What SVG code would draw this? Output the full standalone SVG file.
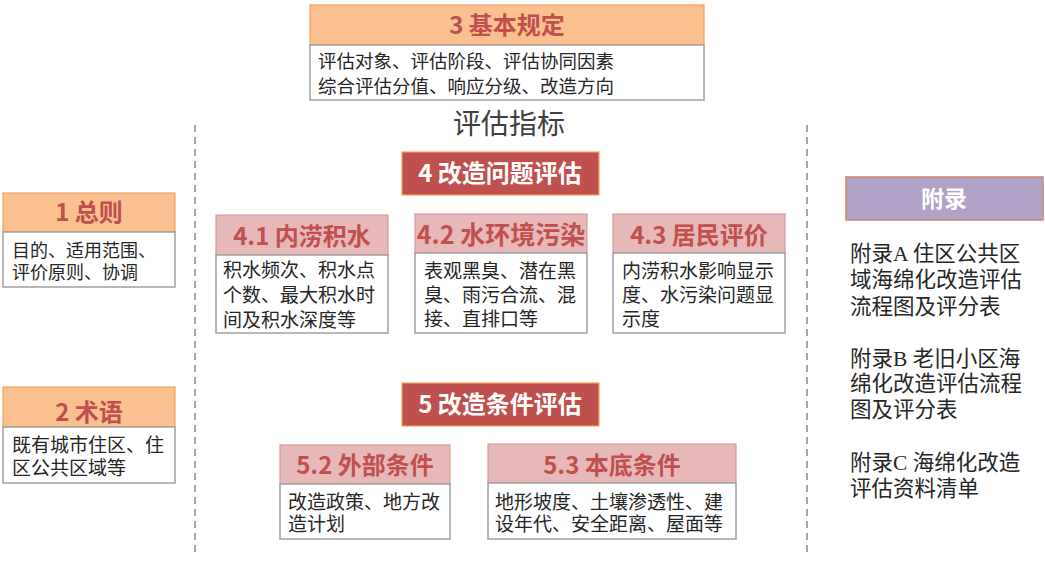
<svg xmlns="http://www.w3.org/2000/svg" width="1045" height="565" viewBox="0 0 1045 565">
<style>
text{font-family:"Noto Sans CJK SC","Noto Sans",sans-serif;}
.ho{fill:#fac090;stroke:#f0a060;stroke-width:1.2;}
.hp{fill:#e6b9b8;stroke:#d59a98;stroke-width:1.2;}
.hr{fill:#c0504d;stroke:#f3a25c;stroke-width:1.2;}
.hv{fill:#b3a2c7;stroke:#c9886a;stroke-width:1.5;}
.bd{fill:#ffffff;stroke:#a0a0a0;stroke-width:1.5;}
.ht{font-size:24px;font-weight:bold;fill:#c0504d;text-anchor:middle;}
.hw{font-size:24px;font-weight:bold;fill:#ffffff;text-anchor:middle;}
.bt{font-size:19px;fill:#262626;}
.at{font-size:21.5px;fill:#262626;}
.ser{font-family:"Liberation Serif",serif;}
.dash{stroke:#a6a6a6;stroke-width:2;stroke-dasharray:7 5;fill:none;}
</style>
<rect width="1045" height="565" fill="#ffffff"/>
<g id="connectors">
<line class="dash" x1="195" y1="125" x2="195" y2="557"/>
<line class="dash" x1="807" y1="125" x2="807" y2="557"/>
</g>
<g id="n3">
<rect class="ho" x="310" y="5" width="394" height="40"/>
<rect class="bd" x="310" y="45" width="394" height="55"/>
<text class="ht" x="507" y="34">3 基本规定</text>
<text class="bt" x="318" y="68" style="font-size:18.5px"><tspan x="318" y="68">评估对象、评估阶段、评估协同因素</tspan><tspan x="318" y="93">综合评估分值、响应分级、改造方向</tspan></text>
</g>
<g id="title">
<text x="509" y="134" style="font-size:28px;fill:#404040;text-anchor:middle">评估指标</text>
</g>
<g id="n4">
<rect class="hr" x="402" y="152" width="197" height="43"/>
<text class="hw" x="500" y="182">4 改造问题评估</text>
</g>
<g id="n1">
<rect class="ho" x="3" y="193" width="172" height="39"/>
<rect class="bd" x="3" y="232" width="172" height="55"/>
<text class="ht" x="89" y="221">1 总则</text>
<text class="bt" style="font-size:18px"><tspan x="12" y="257">目的、适用范围、</tspan><tspan x="12" y="279">评价原则、协调</tspan></text>
</g>
<g id="n41">
<rect class="hp" x="216" y="215" width="172" height="40"/>
<rect class="bd" x="216" y="255" width="172" height="78"/>
<text class="ht" x="302" y="245">4.1 内涝积水</text>
<text class="bt"><tspan x="223" y="277">积水频次、积水点</tspan><tspan x="223" y="302">个数、最大积水时</tspan><tspan x="223" y="327">间及积水深度等</tspan></text>
</g>
<g id="n42">
<rect class="hp" x="415" y="214" width="172" height="39"/>
<rect class="bd" x="415" y="253" width="172" height="80"/>
<text class="ht" x="501" y="244" style="font-size:25px">4.2 水环境污染</text>
<text class="bt"><tspan x="424" y="278">表观黑臭、潜在黑</tspan><tspan x="424" y="302">臭、雨污合流、混</tspan><tspan x="424" y="326">接、直排口等</tspan></text>
</g>
<g id="n43">
<rect class="hp" x="613" y="214" width="172" height="39"/>
<rect class="bd" x="613" y="253" width="172" height="80"/>
<text class="ht" x="699" y="244">4.3 居民评价</text>
<text class="bt"><tspan x="622" y="278">内涝积水影响显示</tspan><tspan x="622" y="302">度、水污染问题显</tspan><tspan x="622" y="326">示度</tspan></text>
</g>
<g id="n5">
<rect class="hr" x="402" y="383" width="197" height="43"/>
<text class="hw" x="500" y="413">5 改造条件评估</text>
</g>
<g id="n2">
<rect class="ho" x="3" y="387" width="172" height="40"/>
<rect class="bd" x="3" y="427" width="172" height="56"/>
<text class="ht" x="89" y="421">2 术语</text>
<text class="bt"><tspan x="12" y="452">既有城市住区、住</tspan><tspan x="12" y="475">区公共区域等</tspan></text>
</g>
<g id="n52">
<rect class="hp" x="280" y="445" width="170" height="39"/>
<rect class="bd" x="280" y="484" width="170" height="55"/>
<text class="ht" x="365" y="474">5.2 外部条件</text>
<text class="bt"><tspan x="288" y="509">改造政策、地方改</tspan><tspan x="288" y="531">造计划</tspan></text>
</g>
<g id="n53">
<rect class="hp" x="488" y="444" width="248" height="39"/>
<rect class="bd" x="488" y="483" width="248" height="56"/>
<text class="ht" x="612" y="474">5.3 本底条件</text>
<text class="bt"><tspan x="495" y="509">地形坡度、土壤渗透性、建</tspan><tspan x="495" y="531">设年代、安全距离、屋面等</tspan></text>
</g>
<g id="appendix">
<rect class="hv" x="846" y="177" width="197" height="43"/>
<text class="hw" x="944" y="207" style="font-size:23px">附录</text>
<text class="at"><tspan x="850" y="261">附录<tspan class="ser">A </tspan>住区公共区</tspan><tspan x="850" y="287">域海绵化改造评估</tspan><tspan x="850" y="314">流程图及评分表</tspan></text>
<text class="at"><tspan x="850" y="366">附录<tspan class="ser">B </tspan>老旧小区海</tspan><tspan x="850" y="391">绵化改造评估流程</tspan><tspan x="850" y="417">图及评分表</tspan></text>
<text class="at"><tspan x="850" y="470">附录<tspan class="ser">C </tspan>海绵化改造</tspan><tspan x="850" y="496">评估资料清单</tspan></text>
</g>
</svg>
